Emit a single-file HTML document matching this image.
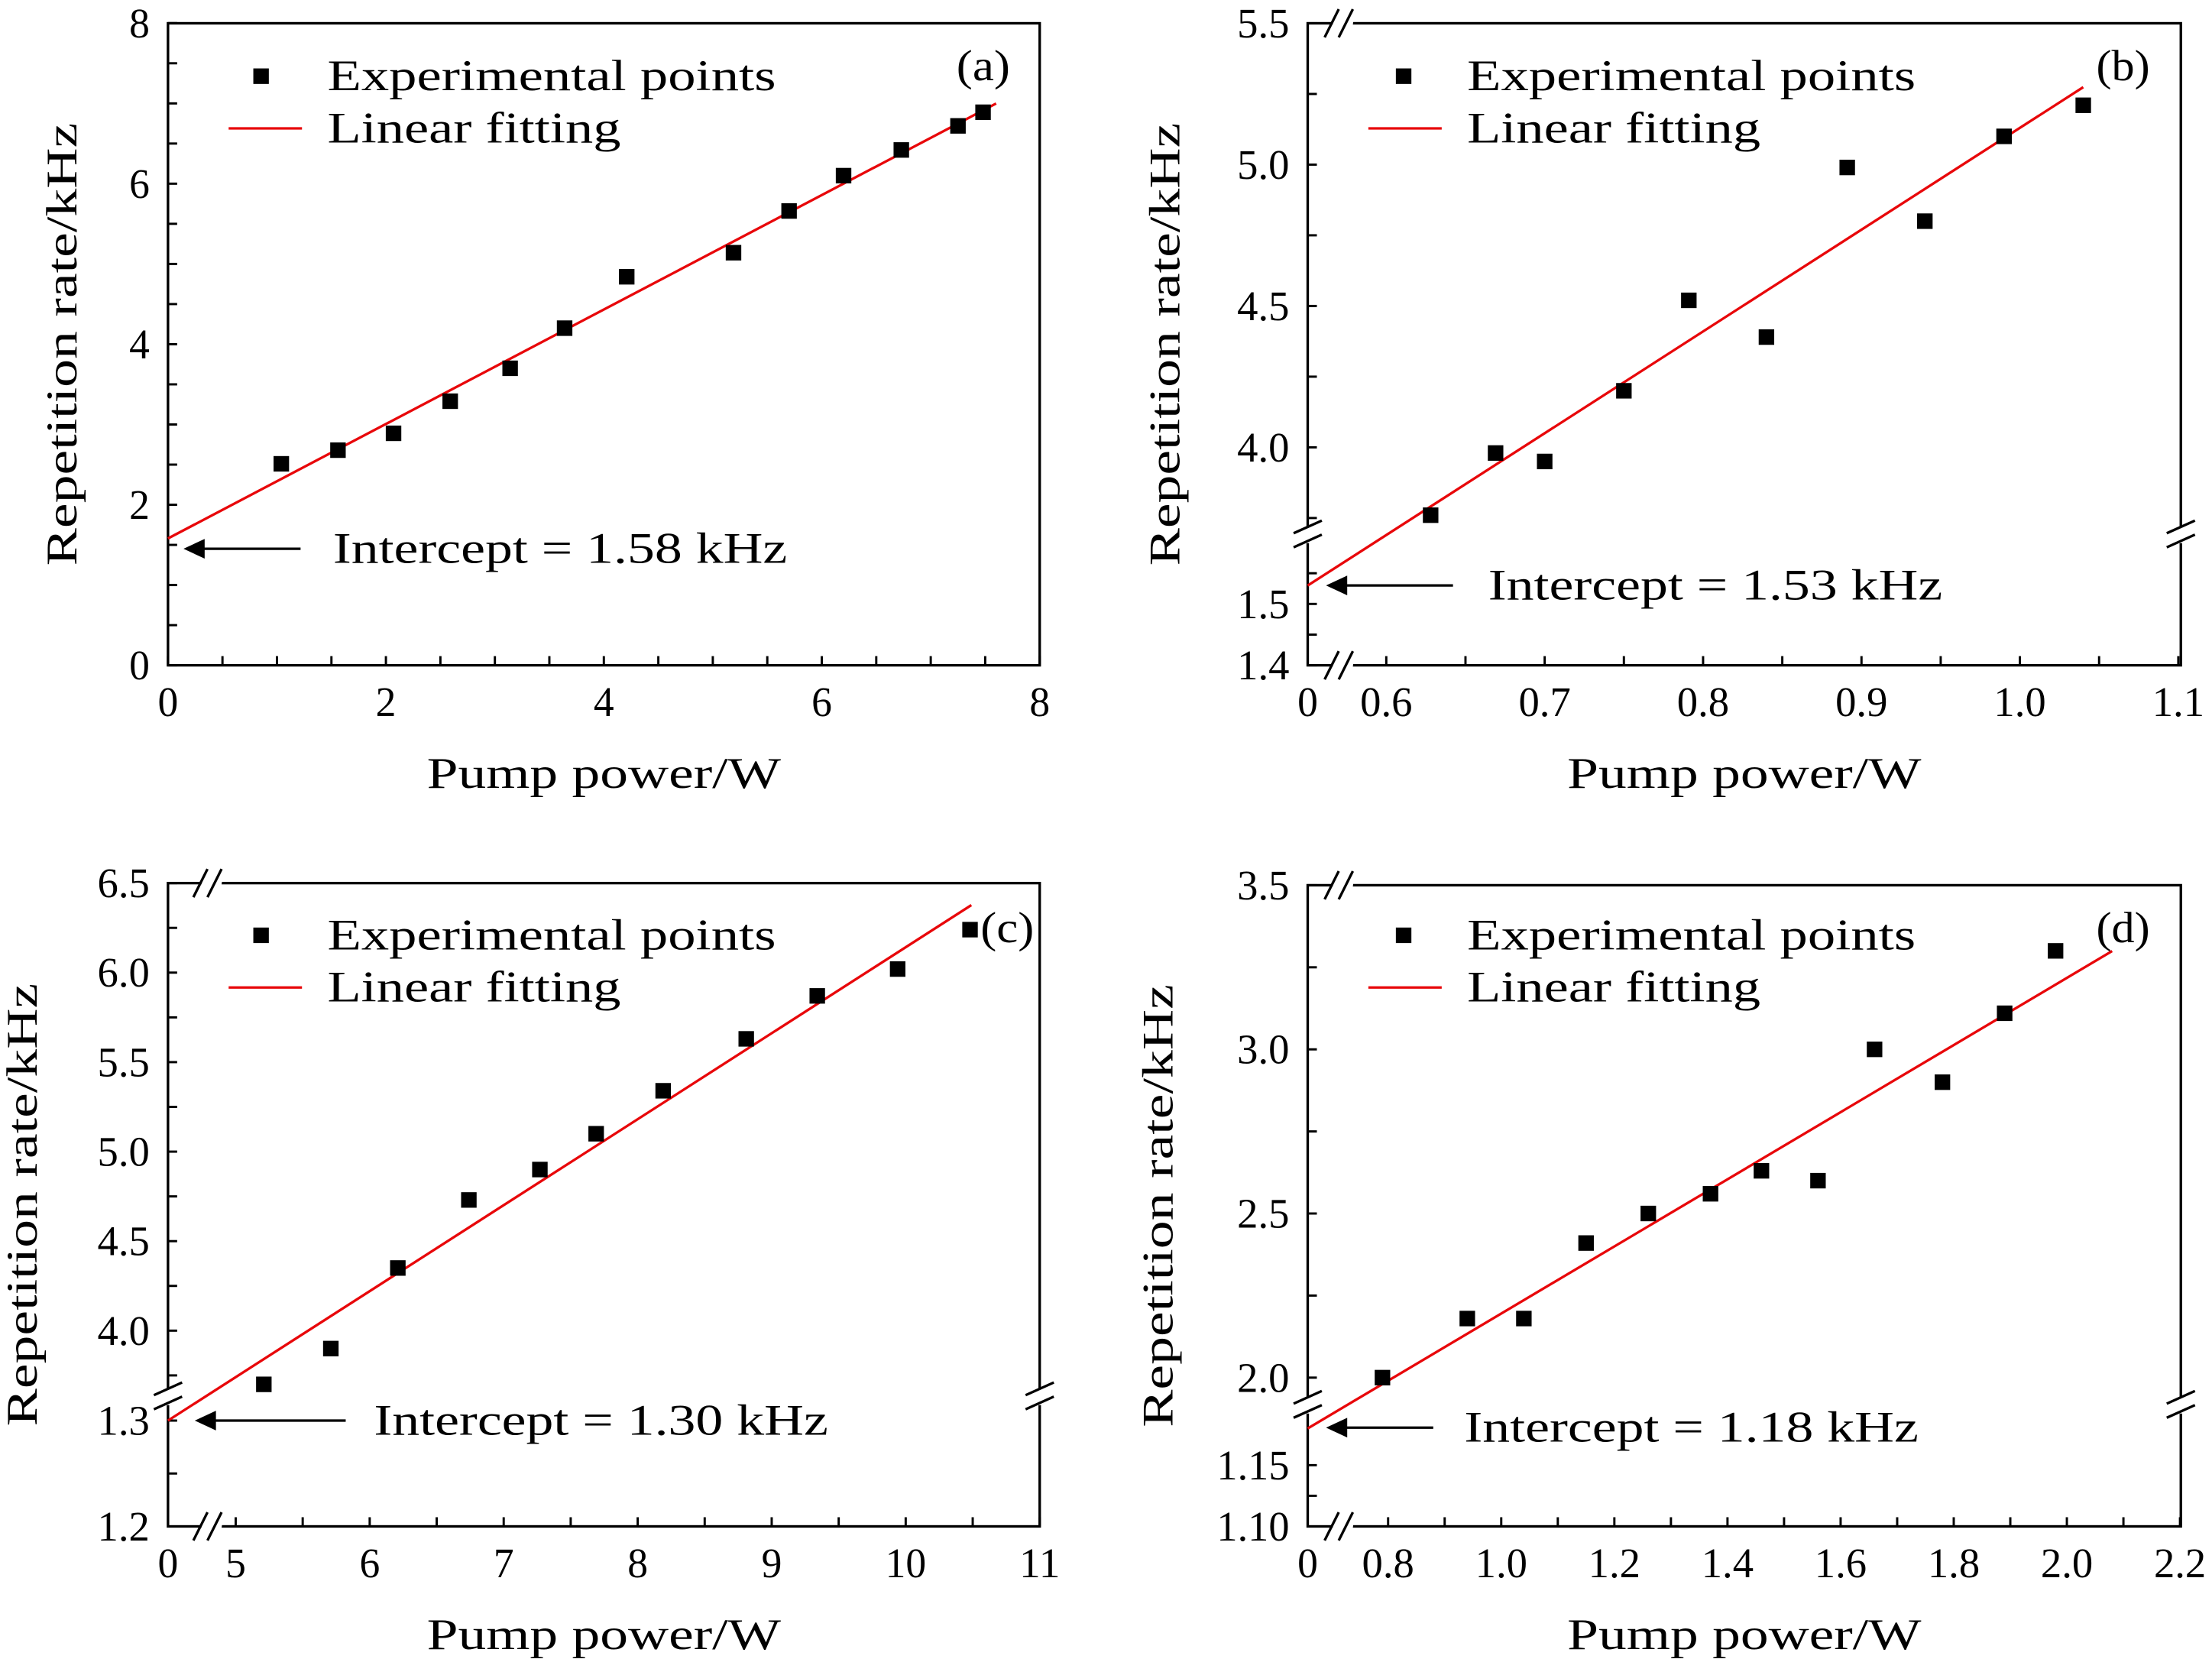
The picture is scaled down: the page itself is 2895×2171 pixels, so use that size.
<!DOCTYPE html>
<html><head><meta charset="utf-8"><style>
html,body{margin:0;padding:0;background:#fff;}
svg{display:block;}
text{font-family:"Liberation Serif",serif;fill:#000;}
</style></head><body>
<svg id="fig" width="2895" height="2171" viewBox="0 0 1568 1176" xmlns="http://www.w3.org/2000/svg"></svg>
<script>
// ---- Panel (a) data ----
const aX=[1.04,1.56,2.07,2.59,3.14,3.64,4.21,5.19,5.70,6.20,6.73,7.25,7.48];
const aY=[2.51,2.68,2.89,3.29,3.70,4.20,4.84,5.14,5.66,6.10,6.42,6.72,6.89];
const aIntercept=1.58, aSlope=0.713, aFitEnd=7.6;
const aXTicks=["0","2","4","6","8"];
const aYTicks=["0","2","4","6","8"];
// ---- Panel (b) data ----
const bX=[0.628,0.669,0.700,0.750,0.791,0.840,0.891,0.940,0.990,1.040];
const bY=[3.76,3.98,3.95,4.20,4.52,4.39,4.99,4.80,5.10,5.21];
const bIntercept=1.53, bSlope=3.6, bFitEnd=1.04;
const bXTicks=["0.6","0.7","0.8","0.9","1.0","1.1"];
const bYTicksUpper=["4.0","4.5","5.0","5.5"];
const bYTicksLower=["1.4","1.5"];
// ---- Panel (c) data ----
const cX=[5.21,5.71,6.21,6.74,7.27,7.69,8.19,8.81,9.34,9.94,10.48];
const cY=[3.70,3.90,4.35,4.73,4.90,5.10,5.34,5.63,5.87,6.02,6.24];
const cIntercept=1.30, cSlope=0.484, cFitEnd=10.49;
const cXTicks=["5","6","7","8","9","10","11"];
const cYTicksUpper=["4.0","4.5","5.0","5.5","6.0","6.5"];
const cYTicksLower=["1.2","1.3"];
// ---- Panel (d) data ----
const dX=[0.79,0.94,1.04,1.15,1.26,1.37,1.46,1.56,1.66,1.78,1.89,1.98];
const dY=[2.00,2.18,2.18,2.41,2.50,2.56,2.63,2.60,3.00,2.90,3.11,3.30];
const dIntercept=1.18, dSlope=1.019, dFitEnd=2.08;
const dXTicks=["0.8","1.0","1.2","1.4","1.6","1.8","2.0","2.2"];
const dYTicksUpper=["2.0","2.5","3.0","3.5"];
const dYTicksLower=["1.10","1.15"];

const NS="http://www.w3.org/2000/svg";
const svg=document.getElementById('fig');
function mk(tag,attrs,parent,txt){const e=document.createElementNS(NS,tag);for(const k in attrs)e.setAttribute(k,attrs[k]);if(txt!==undefined)e.textContent=txt;(parent||svg).appendChild(e);return e;}
function numW(s){let w=0;for(const c of s)w+=(c==='.'?8:14.5);return w;}
function tx(attrs,parent,txt,w){const e=mk('text',attrs,parent,txt);if(w){e.setAttribute('textLength',w);e.setAttribute('lengthAdjust','spacingAndGlyphs');}return e;}

function panel(P){
  const g=mk('g',{});
  
  
  const B=P.box;
  const tl=6.5;
  P.xMajor.forEach((v,i)=>{const x=P.xs(v);
    mk('line',{x1:x,y1:B.b,x2:x,y2:B.b-tl,stroke:'#000','stroke-width':1.6},g);
    const l=tx({x:x,y:B.b+36,'font-size':30,'text-anchor':'middle'},g,P.xLabels[i],numW(P.xLabels[i]));
    });
  P.xMinor.forEach(v=>{const x=P.xs(v);mk('line',{x1:x,y1:B.b,x2:x,y2:B.b-tl,stroke:'#000','stroke-width':1.6},g);});
  if(P.broken){const l=tx({x:B.l,y:B.b+36,'font-size':30,'text-anchor':'middle'},g,'0',14.5);
    }
  P.yMajor.forEach(([v,seg],i)=>{const y=seg==='L'?P.ysL(v):P.ysU(v);
    mk('line',{x1:B.l,y1:y,x2:B.l+tl,y2:y,stroke:'#000','stroke-width':1.6},g);
    const l=tx({x:B.l-13,y:y+10,'font-size':30,'text-anchor':'end'},g,P.yLabels[i],numW(P.yLabels[i]));
    });
  P.yMinor.forEach(([v,seg])=>{const y=seg==='L'?P.ysL(v):P.ysU(v);mk('line',{x1:B.l,y1:y,x2:B.l+tl,y2:y,stroke:'#000','stroke-width':1.6},g);});
  const r=mk('rect',{x:B.l,y:B.t,width:B.r-B.l,height:B.b-B.t,fill:'none',stroke:'#000','stroke-width':1.8},g);
  
  if(P.broken){
    const bx=P.breakX, by=P.breakY;
    [[bx,B.t],[bx,B.b]].forEach(([x,y])=>{
      mk('line',{x1:x-7,y1:y-1,x2:x+7,y2:y+1,stroke:'#fff','stroke-width':6},g);
      mk('line',{x1:x-13,y1:y+10,x2:x-3,y2:y-10,stroke:'#000','stroke-width':1.8},g);
      mk('line',{x1:x-3,y1:y+10,x2:x+7,y2:y-10,stroke:'#000','stroke-width':1.8},g);});
    [[B.l,by],[B.r,by]].forEach(([x,y])=>{
      mk('line',{x1:x,y1:y-6,x2:x,y2:y+6,stroke:'#fff','stroke-width':5},g);
      mk('line',{x1:x-10,y1:y-1,x2:x+10,y2:y-10,stroke:'#000','stroke-width':1.8},g);
      mk('line',{x1:x-10,y1:y+9,x2:x+10,y2:y,stroke:'#000','stroke-width':1.8},g);});
  }
  const x0=P.broken?B.l:P.xs(0), y0=P.broken?P.ysL(P.intercept):P.ysU(P.intercept);
  const fl=mk('line',{x1:x0,y1:y0,x2:P.xs(P.fitEnd),y2:P.ysU(P.intercept+P.slope*P.fitEnd),stroke:'#e8070a','stroke-width':1.8},g);
  
  P.xd.forEach((v,i)=>{const s=11;
    const p=mk('rect',{x:P.xs(v)-s/2,y:P.ysU(P.yd[i])-s/2,width:s,height:s,fill:'#000'},g);
    });
  const L=P.leg;
  const lm=mk('rect',{x:L.mx-5.5,y:L.y-5.5,width:11,height:11,fill:'#000'},g);
  
  const lt=tx({x:L.tx,y:L.y+10,'font-size':31},g,'Experimental points',318);
  
  const ll=mk('line',{x1:L.lx1,y1:L.y+37,x2:L.lx2,y2:L.y+37,stroke:'#e8070a','stroke-width':1.8},g);
  
  const lt2=tx({x:L.tx,y:L.y+47,'font-size':31},g,'Linear fitting',208);
  
  const pl=tx({x:P.lab[0],y:P.lab[1],'font-size':31,'text-anchor':'middle'},g,'('+P.id+')',38);
  
  const A=P.arrow;
  mk('line',{x1:A.x2,y1:A.y,x2:A.x1+10,y2:A.y,stroke:'#000','stroke-width':1.8},g);
  const ah=mk('polygon',{points:`${A.x1},${A.y} ${A.x1+15},${A.y-7} ${A.x1+15},${A.y+7}`,fill:'#000'},g);
  
  const it=tx({x:A.tx,y:A.y+10,'font-size':31},g,'Intercept = '+P.intercept.toFixed(2)+' kHz',322);
  
  const xt=tx({x:(B.l+B.r)/2,y:B.b+87,'font-size':31,'text-anchor':'middle'},g,'Pump power/W',251);
  
  const cy=(B.t+B.b)/2;
  const yt=tx({x:P.ytx,y:cy,'font-size':31,'text-anchor':'middle',transform:`rotate(-90 ${P.ytx} ${cy})`},g,'Repetition rate/kHz',314);
  
}
function range(a,b,s){const r=[];for(let v=a;v<=b+1e-9;v+=s)r.push(+v.toFixed(4));return r;}

panel({id:'a',box:{l:119,r:737,t:16.5,b:471.6},broken:false,
  xs:v=>119+v*77.25, ysU:v=>471.6-v*56.9,
  xMajor:[0,2,4,6,8],xLabels:aXTicks,xMinor:range(0.5,7.5,0.5).filter(v=>v%2),
  yMajor:[[0,'U'],[2,'U'],[4,'U'],[6,'U'],[8,'U']],yLabels:aYTicks,
  yMinor:range(0.5,7.5,0.5).filter(v=>v%2).map(v=>[v,'U']),
  xd:aX,yd:aY,intercept:aIntercept,slope:aSlope,fitEnd:aFitEnd,
  leg:{mx:185,y:54,tx:232,lx1:162,lx2:214},lab:[697,57],
  arrow:{x1:130,x2:213,y:389,tx:236},ytx:54});
panel({id:'b',box:{l:927,r:1546,t:16.5,b:471.6},broken:true,breakX:952,breakY:379,
  xs:v=>982.7+(v-0.6)*1123, ysU:v=>16.5+(5.5-v)*200.4, ysL:v=>428.1+(1.5-v)*435,
  xMajor:[0.6,0.7,0.8,0.9,1.0,1.1],xLabels:bXTicks,xMinor:range(0.65,1.05,0.1),
  yMajor:[[1.4,'L'],[1.5,'L'],[4.0,'U'],[4.5,'U'],[5.0,'U'],[5.5,'U']],
  yLabels:bYTicksLower.concat(bYTicksUpper),
  yMinor:[[1.45,'L'],[1.55,'L'],[3.75,'U'],[4.25,'U'],[4.75,'U'],[5.25,'U']],
  xd:bX,yd:bY,intercept:bIntercept,slope:bSlope,fitEnd:bFitEnd,
  leg:{mx:995,y:54,tx:1040,lx1:970,lx2:1022},lab:[1505,57],
  arrow:{x1:940,x2:1030,y:415,tx:1055},ytx:836});
panel({id:'c',box:{l:119,r:737,t:626,b:1082},broken:true,breakX:150,breakY:990,
  xs:v=>167+(v-5)*95, ysU:v=>626+(6.5-v)*126.9, ysL:v=>1007+(1.3-v)*750,
  xMajor:[5,6,7,8,9,10,11],xLabels:cXTicks,xMinor:range(5.5,10.5,1),
  yMajor:[[1.2,'L'],[1.3,'L'],[4.0,'U'],[4.5,'U'],[5.0,'U'],[5.5,'U'],[6.0,'U'],[6.5,'U']],
  yLabels:cYTicksLower.concat(cYTicksUpper),
  yMinor:[[1.25,'L'],[3.75,'U'],[4.25,'U'],[4.75,'U'],[5.25,'U'],[5.75,'U'],[6.25,'U']],
  xd:cX,yd:cY,intercept:cIntercept,slope:cSlope,fitEnd:cFitEnd,
  leg:{mx:185,y:663,tx:232,lx1:162,lx2:214},lab:[714,668],
  arrow:{x1:138,x2:245,y:1007,tx:265},ytx:26});
panel({id:'d',box:{l:927,r:1546,t:627.5,b:1082},broken:true,breakX:952,breakY:996,
  xs:v=>984+(v-0.8)*401, ysU:v=>627.5+(3.5-v)*232.7, ysL:v=>1082-(v-1.10)*868,
  xMajor:[0.8,1.0,1.2,1.4,1.6,1.8,2.0,2.2],xLabels:dXTicks,xMinor:range(0.9,2.1,0.2),
  yMajor:[[1.10,'L'],[1.15,'L'],[2.0,'U'],[2.5,'U'],[3.0,'U'],[3.5,'U']],
  yLabels:dYTicksLower.concat(dYTicksUpper),
  yMinor:[[1.125,'L'],[2.25,'U'],[2.75,'U'],[3.25,'U']],
  xd:dX,yd:dY,intercept:dIntercept,slope:dSlope,fitEnd:dFitEnd,
  leg:{mx:995,y:663,tx:1040,lx1:970,lx2:1022},lab:[1505,668],
  arrow:{x1:940,x2:1016,y:1012,tx:1038},ytx:831});
</script>
</body></html>
